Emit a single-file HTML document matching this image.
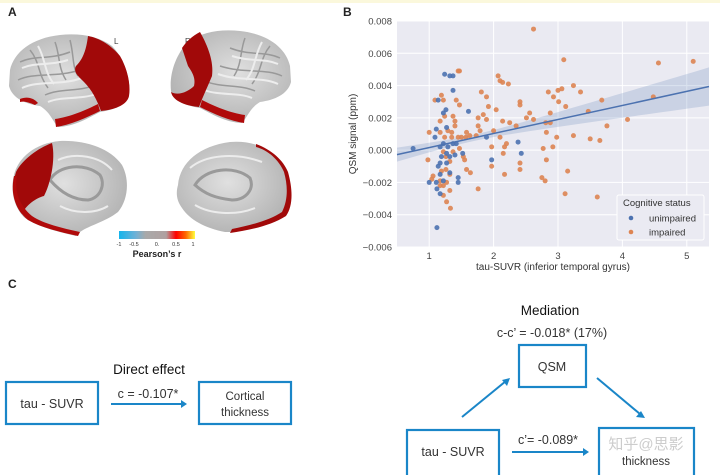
<!DOCTYPE html>
<html><head><meta charset="utf-8"><style>
html,body{margin:0;padding:0;background:#fff;}
body{width:720px;height:475px;overflow:hidden;position:relative;font-family:"Liberation Sans","Noto Sans CJK SC",sans-serif;}
</style></head><body>
<svg id="fig" width="720" height="475" viewBox="0 0 720 475" xmlns="http://www.w3.org/2000/svg" style="position:absolute;left:0;top:0">
<defs>
<linearGradient id="cb" x1="0" x2="1" y1="0" y2="0">
<stop offset="0" stop-color="#14b4ec"/><stop offset="0.22" stop-color="#6fb1d6"/><stop offset="0.35" stop-color="#a9a9a9"/><stop offset="0.62" stop-color="#b0a0a0"/><stop offset="0.75" stop-color="#ff0000"/><stop offset="0.88" stop-color="#ff6a00"/><stop offset="1" stop-color="#ffff40"/>
</linearGradient>
<radialGradient id="gb" cx="0.45" cy="0.45" r="0.6"><stop offset="0" stop-color="#e0e0e0"/><stop offset="1" stop-color="#b2b2b2"/></radialGradient>
</defs>
<rect x="0" y="0" width="720" height="3" fill="#fbf8dc"/>
<g>
<text x="8" y="16" font-size="12" font-weight="bold" fill="#222">A</text>
<text x="114" y="44" font-size="8" fill="#444">L</text>
<text x="185" y="44" font-size="8" fill="#444">R</text>
<g id="latL">
<path d="M10,70 C14,52 32,38 60,35 C80,33 98,36 112,46 C124,58 131,78 129,95 C127,106 112,110 100,112 C88,118 76,126 58,127 C52,120 50,112 40,106 C25,104 12,98 9,86 Z" fill="url(#gb)"/>
<path d="M20,62 C35,55 50,60 70,52 M18,80 C35,72 55,78 80,70 M45,95 C60,88 80,92 95,85 M30,50 C40,62 38,75 48,88 M55,42 C60,55 58,68 66,80 M70,40 C74,55 72,66 78,76" stroke="#999" stroke-width="1.5" fill="none"/>
<path d="M22,68 C36,62 50,66 68,60 M22,88 C40,80 60,86 82,78 M48,102 C62,96 80,100 96,94 M38,46 C46,60 44,72 54,84" stroke="#ededed" stroke-width="2" fill="none"/>
<path d="M88,36 C100,38 112,46 120,56 C127,68 131,84 129,96 C127,106 112,110 101,111 C97,100 92,90 84,82 C78,76 73,72 76,66 C82,60 86,52 88,36 Z" fill="#a10909"/>
<path d="M56,127 C70,125 86,118 100,111 L98,104 C86,110 70,117 55,119 Z" fill="#b00a0a"/>
<path d="M20,99 C27,96 34,98 38,103 L35,105 C28,102 24,101 20,102 Z" fill="#b00a0a"/>
</g>
<g transform="translate(300,-4) scale(-1,1)">
<path d="M10,70 C14,52 32,38 60,35 C80,33 98,36 112,46 C124,58 131,78 129,95 C127,106 112,110 100,112 C88,118 76,126 58,127 C52,120 50,112 40,106 C25,104 12,98 9,86 Z" fill="url(#gb)"/>
<path d="M20,62 C35,55 50,60 70,52 M18,80 C35,72 55,78 80,70 M45,95 C60,88 80,92 95,85 M30,50 C40,62 38,75 48,88 M55,42 C60,55 58,68 66,80" stroke="#999" stroke-width="1.5" fill="none"/>
<path d="M22,68 C36,62 50,66 68,60 M22,88 C40,80 60,86 82,78 M48,102 C62,96 80,100 96,94 M38,46 C46,60 44,72 54,84" stroke="#ededed" stroke-width="2" fill="none"/>
<path d="M100,36 C108,40 114,46 118,52 L112,70 C108,76 104,82 106,90 C112,96 122,100 129,96 C127,106 112,110 101,111 C97,100 92,90 88,80 C86,66 92,50 100,36 Z" fill="#a10909"/>
<path d="M56,127 C70,125 86,118 100,111 L98,104 C86,110 70,117 55,119 Z" fill="#b00a0a"/>
</g>
<g>
<path d="M14,175 C18,158 35,143 60,141 C85,140 110,148 122,165 C130,180 128,200 118,212 C105,222 90,225 80,232 L76,236 C60,232 40,228 25,218 C14,208 10,190 14,175 Z" fill="url(#gb)"/>
<path d="M50,180 C58,165 85,162 100,175 C106,185 100,198 88,200 C75,200 62,194 50,180 Z" fill="none" stroke="#9a9a9a" stroke-width="3"/>
<path d="M58,160 C75,152 100,156 112,170 M60,206 C75,214 95,214 108,206" fill="none" stroke="#ececec" stroke-width="2"/>
<path d="M16,172 C22,160 38,148 52,143 C56,160 50,185 44,196 C36,198 26,205 22,214 C14,205 11,188 16,172 Z" fill="#a10909"/>
<path d="M14,176 C10,195 16,210 28,220 C42,228 60,232 78,236 L80,232 C62,228 44,224 32,216 C20,206 14,192 17,176 Z" fill="#b00a0a"/>
</g>
<g>
<path d="M178,185 C180,162 200,146 230,142 C255,140 275,150 285,168 C292,185 292,205 285,215 C270,225 250,228 232,232 L225,232 C205,228 190,220 182,208 C176,200 176,192 178,185 Z" fill="url(#gb)"/>
<path d="M195,185 C205,168 235,165 250,178 C255,190 245,200 232,200 C215,198 205,194 195,185 Z" fill="none" stroke="#9a9a9a" stroke-width="3"/>
<path d="M190,168 C205,155 235,152 262,162 M195,205 C210,214 235,216 255,208" fill="none" stroke="#ececec" stroke-width="2"/>
<path d="M256,144 C272,150 283,160 288,172 C293,190 293,206 286,216 C270,226 250,230 230,233 L232,229 C252,225 270,220 282,212 C288,200 288,186 284,172 C279,160 268,150 256,147 Z" fill="#a10909"/>
</g>
<rect x="119" y="231" width="76" height="8" fill="url(#cb)"/>
<g font-size="5.5" fill="#333" text-anchor="middle">
<text x="119" y="246">-1</text><text x="134" y="246">-0.5</text><text x="157" y="246">0.</text><text x="176" y="246">0.5</text><text x="193" y="246">1</text>
</g>
<text x="157" y="257" font-size="9" font-weight="bold" fill="#222" text-anchor="middle">Pearson’s r</text>
</g>
<g id="panelB">
<text x="343" y="16" font-size="12" font-weight="bold" fill="#222">B</text>
</g>
<g>
<text x="8" y="288" font-size="12" font-weight="bold" fill="#222">C</text>
<text x="149" y="374" font-size="13.5" fill="#111" text-anchor="middle">Direct effect</text>
<text x="148" y="398" font-size="12.5" fill="#333" text-anchor="middle">c = -0.107*</text>
<line x1="111" y1="404" x2="182" y2="404" stroke="#1a86c8" stroke-width="2"/>
<path d="M181,400 L187,404 L181,408 Z" fill="#1a86c8"/>
<rect x="6" y="382" width="92" height="42" fill="none" stroke="#1a86c8" stroke-width="2.2"/>
<text x="52" y="408" font-size="12.5" fill="#333" text-anchor="middle">tau - SUVR</text>
<rect x="199" y="382" width="92" height="42" fill="none" stroke="#1a86c8" stroke-width="2.2"/>
<text x="245" y="400" font-size="11.5" fill="#333" text-anchor="middle">Cortical</text>
<text x="245" y="416" font-size="11.5" fill="#333" text-anchor="middle">thickness</text>

<text x="550" y="315" font-size="13.5" fill="#111" text-anchor="middle">Mediation</text>
<text x="552" y="337" font-size="12.5" fill="#333" text-anchor="middle">c-c’ = -0.018* (17%)</text>
<rect x="519" y="345" width="67" height="42" fill="none" stroke="#1a86c8" stroke-width="2.2"/>
<text x="552" y="371" font-size="12.5" fill="#333" text-anchor="middle">QSM</text>
<line x1="462" y1="417" x2="506" y2="381" stroke="#1a86c8" stroke-width="2"/>
<path d="M510,378 L502,380 L507,386 Z" fill="#1a86c8"/>
<line x1="597" y1="378" x2="640" y2="414" stroke="#1a86c8" stroke-width="2"/>
<path d="M645,418 L636,417 L641,411 Z" fill="#1a86c8"/>
<rect x="407" y="430" width="92" height="50" fill="none" stroke="#1a86c8" stroke-width="2.2"/>
<text x="453" y="456" font-size="12.5" fill="#333" text-anchor="middle">tau - SUVR</text>
<text x="548" y="444" font-size="12.5" fill="#333" text-anchor="middle">c’= -0.089*</text>
<line x1="512" y1="452" x2="584" y2="452" stroke="#1a86c8" stroke-width="2"/>
<path d="M583,448 L589,452 L583,456 Z" fill="#1a86c8"/>
<rect x="599" y="428" width="95" height="52" fill="none" stroke="#1a86c8" stroke-width="2.2"/>
<text x="646" y="465" font-size="11.5" fill="#333" text-anchor="middle">thickness</text>
<text x="646" y="449" font-size="15" fill="#aaa" fill-opacity="0.6" text-anchor="middle">知乎@思影</text>
</g>
</svg>
<script>
const blueX=[0.75,1.0,1.11,1.12,1.12,1.17,1.11,1.09,1.14,1.24,1.32,1.37,1.37,1.26,1.22,1.61,1.17,1.19,1.17,1.22,1.27,1.32,1.4,1.45,1.45,1.52,1.27,1.89,1.97,2.38,2.43,1.17,1.22,1.32,1.14,1.27,1.29,1.37,1.42];
const blueY=[0.0001,-0.002,-0.002,-0.0024,-0.0048,-0.0027,0.0013,0.0008,0.0031,0.0047,0.0046,0.0046,0.0037,0.0025,0.0023,0.0024,0.0002,-0.0004,-0.0008,0.0004,-0.0002,-0.0004,-0.0003,-0.0017,-0.002,-0.0002,0.0014,0.0008,-0.0006,0.0005,-0.0002,-0.0015,-0.0019,-0.0014,-0.001,-0.0008,0.0002,0.0004,0.0004];
const orangeX=[2.62,3.09,4.56,5.1,4.48,4.08,3.76,3.68,3.47,3.35,3.24,3.06,3.0,2.93,2.85,3.12,3.01,2.88,2.81,2.88,2.82,2.98,3.24,2.92,2.77,2.82,3.15,3.11,2.8,2.75,2.62,2.56,2.51,2.41,2.41,2.23,2.07,2.1,2.14,2.04,2.14,2.25,2.35,2.1,2.2,2.17,2.15,2.41,2.41,2.17,1.97,1.97,2.0,1.89,1.89,1.92,1.81,1.84,1.76,1.76,1.79,1.73,1.63,1.64,1.58,1.55,1.53,1.76,1.57,1.58,1.47,1.45,1.42,1.47,1.37,1.4,1.4,1.35,1.5,1.45,1.47,1.37,1.32,1.32,1.32,1.33,1.27,1.22,1.22,1.17,1.06,1.04,0.98,1.0,1.09,1.19,1.22,1.24,1.17,1.17,1.24,1.22,1.26,1.26,1.19,1.17,1.27,3.5,3.65,3.61,1.29,1.35];
const orangeY=[0.0075,0.0056,0.0054,0.0055,0.0033,0.0019,0.0015,0.0031,0.0024,0.0036,0.004,0.0038,0.0037,0.0033,0.0036,0.0027,0.003,0.0023,0.0017,0.0017,0.0011,0.0008,0.0009,0.0002,0.0001,-0.0006,-0.0013,-0.0027,-0.0019,-0.0017,0.0019,0.0023,0.002,0.003,0.0028,0.0041,0.0046,0.0043,0.0042,0.0025,0.0018,0.0017,0.0015,0.0008,0.0004,0.0002,-0.0002,-0.0008,-0.0012,-0.0015,-0.001,0.0002,0.0012,0.0019,0.0033,0.0027,0.0036,0.0022,0.002,0.0015,0.0012,0.0009,0.0009,-0.0014,-0.0012,-0.0006,-0.0004,-0.0024,0.0008,0.0011,0.0049,0.0049,0.0031,0.0028,0.0021,0.0018,0.0015,0.0011,0.0008,0.0008,0.0001,-0.0001,-0.0007,-0.0015,-0.0025,-0.0036,-0.0032,-0.0028,-0.0022,-0.0022,-0.0016,-0.0018,-0.0006,0.0011,0.0031,0.0034,0.0031,0.0021,0.0018,0.0011,0.0008,-0.0001,-0.0004,-0.0012,-0.0013,-0.0019,-0.002,0.0007,0.0006,-0.0029,0.0012,0.0008];
const xTicks=[1,2,3,4,5];
const yTicks=[-0.006,-0.004,-0.002,0,0.002,0.004,0.006,0.008];
const yTickLabels=["\u22120.006","\u22120.004","\u22120.002","0.000","0.002","0.004","0.006","0.008"];
const fitSlope=0.00087, fitIntercept=-0.00071;
const legendLabels=["unimpaired","impaired"];

const NS="http://www.w3.org/2000/svg";
const g=document.getElementById('panelB');
const L=397,R=709,T=21,B=247,X0=0.5,X1=5.345,Y0=-0.006,Y1=0.008;
const sx=v=>L+(v-X0)/(X1-X0)*(R-L);
const sy=v=>B-(v-Y0)/(Y1-Y0)*(B-T);
function mk(tag,attrs,parent){const e=document.createElementNS(NS,tag);for(const k in attrs)e.setAttribute(k,attrs[k]);(parent||g).appendChild(e);return e;}
const bg=mk('rect',{x:L,y:T,width:R-L,height:B-T,fill:'#eaeaf2'});


xTicks.forEach(t=>{
 const l=mk('line',{x1:sx(t),x2:sx(t),y1:T,y2:B,stroke:'#fff','stroke-width':1});
 
 
 const tx=mk('text',{x:sx(t),y:B+12,'font-size':9.5,fill:'#444','text-anchor':'middle'});
 tx.textContent=t;
 
 
});
yTicks.forEach((t,i)=>{
 const l=mk('line',{x1:L,x2:R,y1:sy(t),y2:sy(t),stroke:'#fff','stroke-width':1});
 
 
 const tx=mk('text',{x:L-5,y:sy(t)+3.5,'font-size':9.5,fill:'#444','text-anchor':'end'});
 tx.textContent=yTickLabels[i];
 
 
});
let up=[],dn=[];
for(let i=0;i<=40;i++){const x=X0+(X1-X0)*i/40;const m=fitIntercept+fitSlope*x;const hw=Math.sqrt(0.0002*0.0002+Math.pow(0.00032*(x-1.7),2));up.push(sx(x)+','+sy(m+hw));dn.unshift(sx(x)+','+sy(m-hw));}
const band=mk('polygon',{points:up.concat(dn).join(' '),fill:'#4c72b0','fill-opacity':0.2});


function dots(xs,ys,col,name){xs.forEach((x,i)=>{const c=mk('circle',{cx:sx(x),cy:sy(ys[i]),r:2.5,fill:col,'fill-opacity':0.9});
 
 });}
dots(orangeX,orangeY,'#dd8452','impaired-point');
dots(blueX,blueY,'#4c72b0','unimpaired-point');
const fl=mk('line',{x1:sx(X0),y1:sy(fitIntercept+fitSlope*X0),x2:sx(X1),y2:sy(fitIntercept+fitSlope*X1),stroke:'#4c72b0','stroke-width':1.5});


const xl=mk('text',{x:553,y:270,'font-size':10,fill:'#333','text-anchor':'middle'});
xl.textContent='tau-SUVR (inferior temporal gyrus)';


const yl=mk('text',{x:0,y:0,'font-size':10,fill:'#333','text-anchor':'middle',transform:'translate(356,134) rotate(-90)'});
yl.textContent='QSM signal (ppm)';


const lg=mk('g',{});


mk('rect',{x:617,y:195,width:87,height:45,fill:'#eaeaf2',stroke:'#fff','stroke-width':1,rx:2},lg);
const lt=mk('text',{x:623,y:206,'font-size':9.5,fill:'#333'},lg);lt.textContent='Cognitive status';
const cols=['#4c72b0','#dd8452'];
legendLabels.forEach((s,i)=>{
 const e=mk('g',{},lg);
 
 
 mk('circle',{cx:631,cy:218+i*14,r:2.3,fill:cols[i]},e);
 const t=mk('text',{x:649,y:221.5+i*14,'font-size':9.5,fill:'#333'},e);t.textContent=s;
});
</script>
</body></html>
